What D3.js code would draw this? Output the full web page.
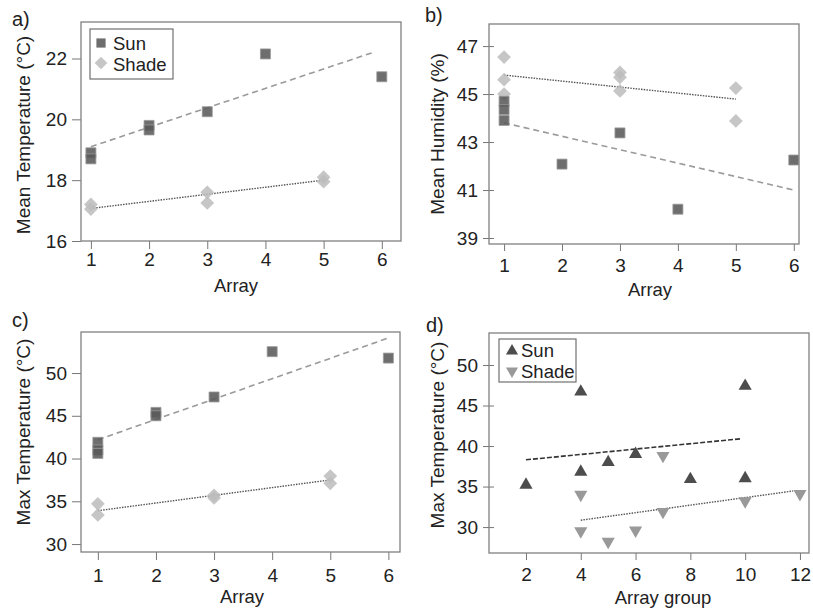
<!DOCTYPE html>
<html>
<head>
<meta charset="utf-8">
<script src="https://cdn.jsdelivr.net/npm/d3@7"></script>
<style>
  body { margin: 0; background: #fff; }
  svg text { font-family: "Liberation Sans", Arial, sans-serif; fill: #222; }
</style>
</head>
<body>
<svg width="813" height="614"></svg>
<script>
// a) mean temperature
const aSunX = [1, 1, 2, 2, 3, 4, 6];
const aSunY = [18.9, 18.7, 19.8, 19.65, 20.25, 22.15, 21.4];
const aShadeX = [1, 1, 3, 3, 5, 5];
const aShadeY = [17.2, 17.05, 17.6, 17.25, 18.1, 17.95];
const aSunFitX = [1, 5.85], aSunFitY = [19.1, 22.2];
const aShadeFitX = [1, 5], aShadeFitY = [17.07, 18.0];
const aXTicks = [1, 2, 3, 4, 5, 6];
const aYTicks = [16, 18, 20, 22];

// b) mean humidity
const bSunX = [1, 1, 1, 2, 3, 4, 6];
const bSunY = [44.7, 44.35, 43.9, 42.08, 43.38, 40.2, 42.25];
const bShadeX = [1, 1, 1, 3, 3, 3, 5, 5];
const bShadeY = [46.54, 45.6, 45.0, 45.9, 45.7, 45.13, 45.25, 43.88];
const bSunFitX = [1, 6], bSunFitY = [43.8, 41.0];
const bShadeFitX = [1, 5], bShadeFitY = [45.79, 44.79];
const bXTicks = [1, 2, 3, 4, 5, 6];
const bYTicks = [39, 41, 43, 45, 47];

// c) max temperature
const cSunX = [1, 1, 1, 2, 2, 3, 4, 6];
const cSunY = [41.9, 41.0, 40.6, 45.4, 45.0, 47.2, 52.5, 51.75];
const cShadeX = [1, 1, 3, 3, 5, 5];
const cShadeY = [34.7, 33.4, 35.7, 35.4, 37.95, 37.1];
const cSunFitX = [1, 6], cSunFitY = [42.2, 54.1];
const cShadeFitX = [1, 5], cShadeFitY = [33.9, 37.5];
const cXTicks = [1, 2, 3, 4, 5, 6];
const cYTicks = [30, 35, 40, 45, 50];

// d) max temperature by array group
const dSunX = [2, 4, 4, 5, 6, 8, 10, 10];
const dSunY = [35.2, 46.7, 36.8, 38.0, 39.0, 35.9, 47.4, 36.0];
const dShadeX = [4, 4, 5, 6, 7, 7, 10, 12];
const dShadeY = [34.0, 29.5, 28.2, 29.6, 38.8, 31.9, 33.2, 34.1];
const dSunFitX = [2, 9.85], dSunFitY = [38.3, 40.9];
const dShadeFitX = [4, 11.75], dShadeFitY = [30.85, 34.45];
const dXTicks = [2, 4, 6, 8, 10, 12];
const dYTicks = [30, 35, 40, 45, 50];

const legendNames = ["Sun", "Shade"];

const svg = d3.select("svg");

const shapes = {
  square:  {type: d3.symbolSquare, size: 100, rot: 0, fill: "#5a5a5a", op: 0.88, stroke: "#999"},
  diamond: {type: d3.symbolSquare, size: 95, rot: 45, fill: "#bcbcbc", op: 0.85, stroke: "none"},
  up:      {type: d3.symbolTriangle, size: 75, rot: 0, fill: "#4d4d4d", op: 1, stroke: "none"},
  down:    {type: d3.symbolTriangle, size: 75, rot: 180, fill: "#999", op: 1, stroke: "none"}
};

function drawPanel(p) {
  const x = d3.scaleLinear().domain(p.xdom).range([p.left, p.right]);
  const y = d3.scaleLinear().domain(p.ydom).range([p.bottom, p.top]);
  const g = svg.append("g");

  // axes
  const yAx = g.append("g")
    .attr("transform", "translate(" + (p.left + p.yCross) + ",0)")
    .call(d3.axisLeft(y).tickValues(p.yTicks).tickFormat(d3.format("d"))
      .tickSize(p.yTickLen).tickPadding(p.yPad).tickSizeOuter(0));
  const xAx = g.append("g")
    .attr("transform", "translate(0," + p.bottom + ")")
    .call(d3.axisBottom(x).tickValues(p.xTicks).tickFormat(d3.format("d"))
      .tickSize(p.xTickLen).tickPadding(p.xPad).tickSizeOuter(0));
  [xAx, yAx].forEach(function(a) {
    a.select(".domain").remove();
    a.selectAll("line").attr("stroke", "#777");
    a.selectAll("text").attr("font-size", 19).attr("fill", "#222")
      .attr("font-family", '"Liberation Sans", Arial, sans-serif');
  });

  // frame
  g.append("rect")
    .attr("x", p.left).attr("y", p.top)
    .attr("width", p.right - p.left).attr("height", p.bottom - p.top)
    .attr("fill", "none").attr("stroke", "#808080").attr("stroke-width", 1.3);

  // fitted lines
  const line = d3.line().x(function(d) { return x(d[0]); }).y(function(d) { return y(d[1]); });
  p.fits.forEach(function(f) {
    g.append("path")
      .datum(d3.zip(f.xs, f.ys))
      .attr("d", line)
      .attr("fill", "none")
      .attr("stroke", f.color)
      .attr("stroke-width", f.width)
      .attr("stroke-dasharray", f.dash);
  });

  // points
  p.series.forEach(function(s) {
    const sh = shapes[s.shape];
    g.append("g").selectAll("path")
      .data(d3.zip(s.xs, s.ys))
      .enter().append("path")
      .attr("d", d3.symbol().type(sh.type).size(sh.size))
      .attr("transform", function(d) {
        return "translate(" + x(d[0]) + "," + y(d[1]) + ") rotate(" + sh.rot + ")";
      })
      .attr("fill", sh.fill)
      .attr("fill-opacity", sh.op)
      .attr("stroke", sh.stroke)
      .attr("stroke-width", 0.8);
  });

  // legend
  if (p.legend) {
    const L = p.legend;
    g.append("rect")
      .attr("x", L.x).attr("y", L.y).attr("width", L.w).attr("height", L.h)
      .attr("fill", "#fff").attr("stroke", "#707070").attr("stroke-width", 1.2);
    legendNames.forEach(function(name, i) {
      const sh = shapes[L.shapes[i]];
      g.append("path")
        .attr("d", d3.symbol().type(sh.type).size(sh.size * 0.85))
        .attr("transform", "translate(" + L.symX + "," + L.symY[i] + ") rotate(" + sh.rot + ")")
        .attr("fill", sh.fill).attr("fill-opacity", sh.op);
      g.append("text")
        .attr("x", L.textX).attr("y", L.textY[i])
        .attr("font-size", 18.5)
        .text(name);
    });
  }

  // titles
  g.append("text")
    .attr("x", p.xTitleX).attr("y", p.xTitleY)
    .attr("text-anchor", "middle").attr("font-size", 18.5)
    .text(p.xTitle);
  g.append("text")
    .attr("transform", "translate(" + p.yTitleX + "," + p.yTitleY + ") rotate(-90)")
    .attr("text-anchor", "middle").attr("font-size", 19)
    .text(p.yTitle);
  g.append("text")
    .attr("x", p.labelX).attr("y", p.labelY)
    .attr("font-size", 20)
    .text(p.label);
}

const sunDash = {color: "#9a9a9a", width: 1.6, dash: "6,4"};
const shadeDot = {color: "#555", width: 1.4, dash: "1.5,1.2"};

drawPanel({
  label: "a)", labelX: 12, labelY: 26,
  left: 81, right: 401, top: 22, bottom: 241,
  xdom: [0.83, 6.33], ydom: [16, 23.2],
  xTicks: aXTicks, yTicks: aYTicks,
  yCross: 0, yTickLen: 9, yPad: 5, xTickLen: 8, xPad: 4,
  xTitle: "Array", xTitleX: 236, xTitleY: 292,
  yTitle: "Mean Temperature (°C)", yTitleX: 30, yTitleY: 135,
  series: [
    {xs: aShadeX, ys: aShadeY, shape: "diamond"},
    {xs: aSunX, ys: aSunY, shape: "square"}
  ],
  fits: [
    Object.assign({xs: aSunFitX, ys: aSunFitY}, sunDash),
    Object.assign({xs: aShadeFitX, ys: aShadeFitY}, shadeDot)
  ],
  legend: {x: 90, y: 29, w: 83, h: 50, shapes: ["square", "diamond"],
           symX: 101, symY: [43, 63], textX: 113, textY: [50, 71]}
});

drawPanel({
  label: "b)", labelX: 425, labelY: 22,
  left: 489, right: 799, top: 24, bottom: 244,
  xdom: [0.74, 6.09], ydom: [38.75, 47.92],
  xTicks: bXTicks, yTicks: bYTicks,
  yCross: 5, yTickLen: 11, yPad: 5, xTickLen: 7, xPad: 8,
  xTitle: "Array", xTitleX: 650, xTitleY: 296,
  yTitle: "Mean Humidity (%)", yTitleX: 444, yTitleY: 134,
  series: [
    {xs: bShadeX, ys: bShadeY, shape: "diamond"},
    {xs: bSunX, ys: bSunY, shape: "square"}
  ],
  fits: [
    Object.assign({xs: bSunFitX, ys: bSunFitY}, sunDash),
    Object.assign({xs: bShadeFitX, ys: bShadeFitY}, shadeDot)
  ]
});

drawPanel({
  label: "c)", labelX: 12, labelY: 327,
  left: 81, right: 400, top: 332, bottom: 552,
  xdom: [0.71, 6.2], ydom: [29.07, 54.8],
  xTicks: cXTicks, yTicks: cYTicks,
  yCross: 0, yTickLen: 9, yPad: 5, xTickLen: 8, xPad: 9,
  xTitle: "Array", xTitleX: 242, xTitleY: 603,
  yTitle: "Max Temperature (°C)", yTitleX: 30, yTitleY: 432,
  series: [
    {xs: cShadeX, ys: cShadeY, shape: "diamond"},
    {xs: cSunX, ys: cSunY, shape: "square"}
  ],
  fits: [
    Object.assign({xs: cSunFitX, ys: cSunFitY}, sunDash),
    Object.assign({xs: cShadeFitX, ys: cShadeFitY}, shadeDot)
  ]
});

drawPanel({
  label: "d)", labelX: 426, labelY: 332,
  left: 489, right: 809, top: 333, bottom: 553,
  xdom: [0.65, 12.33], ydom: [26.8, 53.95],
  xTicks: dXTicks, yTicks: dYTicks,
  yCross: 5, yTickLen: 11, yPad: 5, xTickLen: 7, xPad: 8,
  xTitle: "Array group", xTitleX: 663, xTitleY: 604,
  yTitle: "Max Temperature (°C)", yTitleX: 444, yTitleY: 435,
  series: [
    {xs: dSunX, ys: dSunY, shape: "up"},
    {xs: dShadeX, ys: dShadeY, shape: "down"}
  ],
  fits: [
    {xs: dSunFitX, ys: dSunFitY, color: "#333", width: 1.6, dash: "5,2"},
    Object.assign({xs: dShadeFitX, ys: dShadeFitY}, shadeDot)
  ],
  legend: {x: 499, y: 339, w: 77, h: 43, shapes: ["up", "down"],
           symX: 512, symY: [351, 371], textX: 521, textY: [357, 378]}
});
</script>
</body>
</html>
